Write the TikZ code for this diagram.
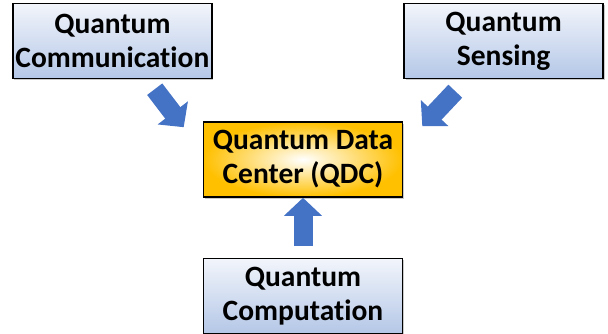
\documentclass[tikz,border=0pt]{standalone}
\usepackage{fontspec}
\setmainfont{Carlito}[Ligatures=NoCommon]
\usepackage{tikz}
\usetikzlibrary{positioning}
\usetikzlibrary{calc}
\usetikzlibrary{arrows.meta}
\usetikzlibrary{shadows}

\definecolor{boxtop}{HTML}{F2F5FB}
\definecolor{boxbottom}{HTML}{B4C7E7}
\definecolor{qdcgold}{HTML}{FFC000}
\definecolor{arrowblue}{HTML}{4472C4}

\tikzset{
  field/.style={draw=black, line width=1.6pt, minimum width=199pt, minimum height=75pt,
    top color=boxtop, bottom color=boxbottom, align=center, inner sep=0pt,
    font=\fontsize{29.5}{34}\selectfont\bfseries,
    drop shadow={shadow xshift=1.5pt, shadow yshift=-1.5pt, fill=gray!70, opacity=0.6}},
  hub/.style={field, shading=radial, inner color=white, outer color=qdcgold},
  feed/.style={draw=arrowblue, line width=19pt, -{Triangle[width=37pt,length=18pt]}, arrowblue}
}

\begin{document}
\begin{tikzpicture}[x=1pt,y=-1pt]
        \useasboundingbox (0,0) rectangle (608,333);
        % Nodes
        \node[hub] (qdc) at (303,159.5) {Quantum Data\\Center (QDC)};
        \node[field, above left=42pt and -10pt of qdc] (comm) {Quantum\\Communication};
        \node[field, above right=42pt and 0pt of qdc] (sens) {Quantum\\Sensing};
        \node[field, below=60pt of qdc] (comp) {Quantum\\Computation};

        \coordinate (commtail) at ($(qdc.north west)+(-48,-32)$);
        \coordinate (commtip) at ($(qdc.north west)+(-19,6)$);
        \coordinate (senstail) at ($(qdc.north east)+(52,-30)$);
        \coordinate (senstip) at ($(qdc.north east)+(19,5)$);

        % Arrows
        \draw[feed] (commtail) -- (commtip);
        \draw[feed] (senstail) -- (senstip);
        \draw[feed, shorten <=12pt] (comp.north) -- (qdc.south);
\end{tikzpicture}
\end{document}
